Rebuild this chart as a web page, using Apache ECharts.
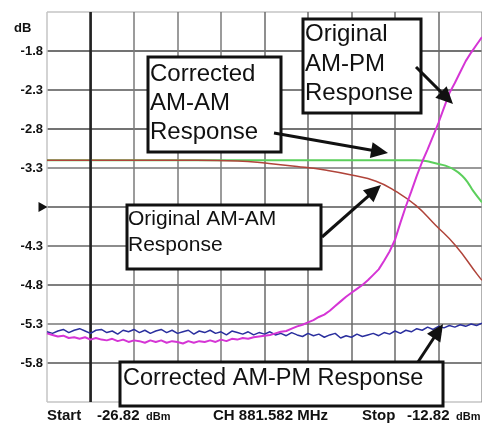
<!DOCTYPE html>
<html>
<head>
<meta charset="utf-8">
<script src="https://cdn.jsdelivr.net/npm/echarts@6/dist/echarts.min.js"></script>
<style>
  html,body{margin:0;padding:0;background:#fff;}
  #chart{width:482px;height:428px;}
</style>
</head>
<body>
<div id="chart"></div>
<script>
// sweep: start / stop power (dBm), 10 divisions
var startDbm = -26.82;
var stopDbm = -12.82;
var yBottom = -6.3;
var yTop = -1.3;

// fine sweep points (dBm) for the noisy AM-PM traces
var xFine = [-26.82,-26.645,-26.47,-26.295,-26.12,-25.945,-25.77,-25.595,-25.42,-25.245,
  -25.07,-24.895,-24.72,-24.545,-24.37,-24.195,-24.02,-23.845,-23.67,-23.495,
  -23.32,-23.145,-22.97,-22.795,-22.62,-22.445,-22.27,-22.095,-21.92,-21.745,
  -21.57,-21.395,-21.22,-21.045,-20.87,-20.695,-20.52,-20.345,-20.17,-19.995,
  -19.82,-19.645,-19.47,-19.295,-19.12,-18.945,-18.77,-18.595,-18.42,-18.245,
  -18.07,-17.895,-17.72,-17.545,-17.37,-17.195,-17.02,-16.845,-16.67,-16.495,
  -16.32,-16.145,-15.97,-15.795,-15.62,-15.445,-15.27,-15.095,-14.92,-14.745,
  -14.57,-14.395,-14.22,-14.045,-13.87,-13.695,-13.52,-13.345,-13.17,-12.995,-12.82];

// Corrected AM-PM (blue)
var corrAmPm = [-5.40,-5.42,-5.39,-5.37,-5.41,-5.38,-5.36,-5.39,-5.42,-5.38,
  -5.37,-5.41,-5.39,-5.43,-5.38,-5.40,-5.37,-5.41,-5.38,-5.42,
  -5.39,-5.37,-5.41,-5.38,-5.42,-5.40,-5.38,-5.43,-5.39,-5.41,
  -5.38,-5.42,-5.40,-5.44,-5.39,-5.41,-5.43,-5.40,-5.44,-5.41,
  -5.43,-5.40,-5.44,-5.42,-5.45,-5.41,-5.44,-5.46,-5.42,-5.45,
  -5.43,-5.47,-5.44,-5.42,-5.48,-5.45,-5.47,-5.43,-5.46,-5.44,
  -5.42,-5.45,-5.41,-5.43,-5.39,-5.42,-5.38,-5.40,-5.36,-5.38,
  -5.34,-5.37,-5.33,-5.35,-5.32,-5.34,-5.31,-5.33,-5.30,-5.32,-5.29];

// Original AM-PM (magenta)
var origAmPm = [-5.42,-5.44,-5.46,-5.45,-5.48,-5.47,-5.49,-5.47,-5.50,-5.48,
  -5.50,-5.51,-5.49,-5.52,-5.50,-5.53,-5.51,-5.52,-5.54,-5.51,
  -5.53,-5.51,-5.54,-5.52,-5.53,-5.55,-5.52,-5.54,-5.52,-5.53,
  -5.51,-5.53,-5.50,-5.52,-5.49,-5.50,-5.48,-5.49,-5.47,-5.46,
  -5.45,-5.44,-5.42,-5.40,-5.39,-5.36,-5.33,-5.31,-5.28,-5.25,
  -5.21,-5.18,-5.13,-5.07,-5.01,-4.95,-4.90,-4.85,-4.80,-4.74,
  -4.67,-4.60,-4.49,-4.37,-4.22,-4.00,-3.79,-3.60,-3.40,-3.22,
  -3.06,-2.89,-2.72,-2.53,-2.34,-2.21,-2.07,-1.93,-1.82,-1.72,-1.62];

// Corrected AM-AM (green)
var greenX = [-26.82,-20,-16,-15.27,-14.95,-14.63,-14.32,-14.00,-13.68,-13.46,-13.27,-13.11,-12.82];
var corrAmAm = [-3.20,-3.20,-3.20,-3.20,-3.20,-3.21,-3.24,-3.27,-3.33,-3.40,-3.49,-3.59,-3.74];

// Original AM-AM (red)
var redX = [-26.82,-22,-20.68,-19.73,-18.77,-17.82,-17.02,-16.23,-15.59,-14.95,-14.32,-13.68,-12.98,-12.82];
var origAmAm = [-3.20,-3.20,-3.21,-3.24,-3.28,-3.33,-3.39,-3.47,-3.60,-3.78,-4.03,-4.29,-4.66,-4.74];

// marker positions
var markerDbm = -25.42;
var refLevel = -3.8;
var hiddenLabels = ['-1.3', '-3.8', '-6.3'];

var FONT = "'Liberation Sans', Arial, sans-serif";

function pts(xs, ys){
    return xs.map(function(x, i){
        return [+(x - startDbm).toFixed(3), +(ys[i] - yBottom).toFixed(3)];
    });
}

// annotation box
function box(x, y, w, h, txt, size, lh, tx, ty){
    return [{
        type:'rect', z:100,
        shape:{x:x, y:y, width:w, height:h},
        style:{fill:'#fff', stroke:'#111', lineWidth:3}
    },{
        type:'text', z:101, x:tx, y:ty,
        style:{text:txt, fill:'#111', font:size + 'px ' + FONT, lineHeight:lh, verticalAlign:'top'}
    }];
}

// arrow with filled head
function arrow(x1, y1, x2, y2){
    var dx = x2 - x1, dy = y2 - y1;
    var len = Math.sqrt(dx*dx + dy*dy);
    var ux = dx/len, uy = dy/len;
    var hl = 17, hw = 8;
    var bx = x2 - ux*hl, by = y2 - uy*hl;
    return [{
        type:'line', z:100,
        shape:{x1:x1, y1:y1, x2:bx + ux*2, y2:by + uy*2},
        style:{stroke:'#111', lineWidth:3}
    },{
        type:'polygon', z:100,
        shape:{points:[[x2, y2], [bx - uy*hw, by + ux*hw], [bx + uy*hw, by - ux*hw]]},
        style:{fill:'#111'}
    }];
}

var graphics = [].concat(
    box(148, 57, 133, 95, 'Corrected\nAM-AM\nResponse', 24, 29, 150, 60),
    box(303, 19, 118, 94, 'Original\nAM-PM\nResponse', 24, 29.5, 305, 20),
    box(127, 205, 194, 64, 'Original AM-AM\nResponse', 21, 26, 128, 206),
    box(120, 362, 323, 44, 'Corrected AM-PM Response', 23.5, 28, 123, 365),
    arrow(274, 133, 388, 153),
    arrow(416, 67, 453, 104),
    arrow(322, 237, 381, 185),
    arrow(418, 362, 443, 324),
    [
        {type:'text', x:14, y:28, style:{text:'dB', font:'bold 13px ' + FONT, fill:'#111', verticalAlign:'middle'}},
        {type:'text', x:47, y:416, style:{text:'Start', font:'bold 15px ' + FONT, fill:'#111', verticalAlign:'middle'}},
        {type:'text', x:97, y:416, style:{text:'-26.82', font:'bold 15px ' + FONT, fill:'#111', verticalAlign:'middle'}},
        {type:'text', x:146, y:417, style:{text:'dBm', font:'bold 11px ' + FONT, fill:'#111', verticalAlign:'middle'}},
        {type:'text', x:213, y:416, style:{text:'CH 881.582 MHz', font:'bold 15px ' + FONT, fill:'#111', verticalAlign:'middle'}},
        {type:'text', x:362, y:416, style:{text:'Stop', font:'bold 15px ' + FONT, fill:'#111', verticalAlign:'middle'}},
        {type:'text', x:407, y:416, style:{text:'-12.82', font:'bold 15px ' + FONT, fill:'#111', verticalAlign:'middle'}},
        {type:'text', x:456, y:417, style:{text:'dBm', font:'bold 11px ' + FONT, fill:'#111', verticalAlign:'middle'}}
    ]
);

var chart = echarts.init(document.getElementById('chart'));
var option = {
    animation:false,
    backgroundColor:'#fff',
    grid:{left:47, top:12, right:-5, bottom:26},
    xAxis:{
        type:'value', min:0, max:stopDbm - startDbm, interval:1.4,
        axisLabel:{show:false}, axisTick:{show:false}, axisLine:{show:false},
        splitLine:{show:true, lineStyle:{width:1.5,
            color:['#c4c4c4','#333','#7a7a7a','#7a7a7a','#7a7a7a','#6a6a6a','#6a6a6a','#6a6a6a','#6a6a6a','#6a6a6a','#999']}}
    },
    yAxis:{
        type:'value', min:0, max:yTop - yBottom, interval:0.5,
        axisTick:{show:false}, axisLine:{show:false},
        axisLabel:{
            margin:4, color:'#111', fontWeight:'bold', fontSize:13, fontFamily:FONT,
            formatter:function(v){
                var s = (v + yBottom).toFixed(1);
                return hiddenLabels.indexOf(s) >= 0 ? '' : s;
            }
        },
        splitLine:{show:true, lineStyle:{width:1.5,
            color:['#c4c4c4','#555','#777','#555','#666','#555','#777','#444','#555','#444','#c4c4c4']}}
    },
    graphic:graphics,
    series:[
        {
            name:'Corrected AM-AM', type:'line', data:pts(greenX, corrAmAm),
            smooth:true, showSymbol:false, z:3,
            lineStyle:{color:'#5ccf5c', width:2}
        },
        {
            name:'Original AM-AM', type:'line', data:pts(redX, origAmAm),
            smooth:true, showSymbol:false, z:4,
            lineStyle:{color:'#b0443a', width:1.5}
        },
        {
            name:'Corrected AM-PM', type:'line', data:pts(xFine, corrAmPm),
            showSymbol:false, z:5,
            lineStyle:{color:'#2a2f9e', width:1.5},
            markLine:{
                silent:true, symbol:'none', label:{show:false},
                lineStyle:{color:'#222', width:2.5, type:'solid'},
                data:[{xAxis:markerDbm - startDbm}]
            },
            markPoint:{
                silent:true, symbol:'triangle', symbolRotate:-90, symbolSize:[10, 9],
                symbolOffset:[-4, 0],
                itemStyle:{color:'#111'}, label:{show:false},
                data:[{coord:[0, refLevel - yBottom]}]
            }
        },
        {
            name:'Original AM-PM', type:'line', data:pts(xFine, origAmPm),
            showSymbol:false, z:6,
            lineStyle:{color:'#d535d5', width:2}
        }
    ]
};
chart.setOption(option);
</script>
</body>
</html>
